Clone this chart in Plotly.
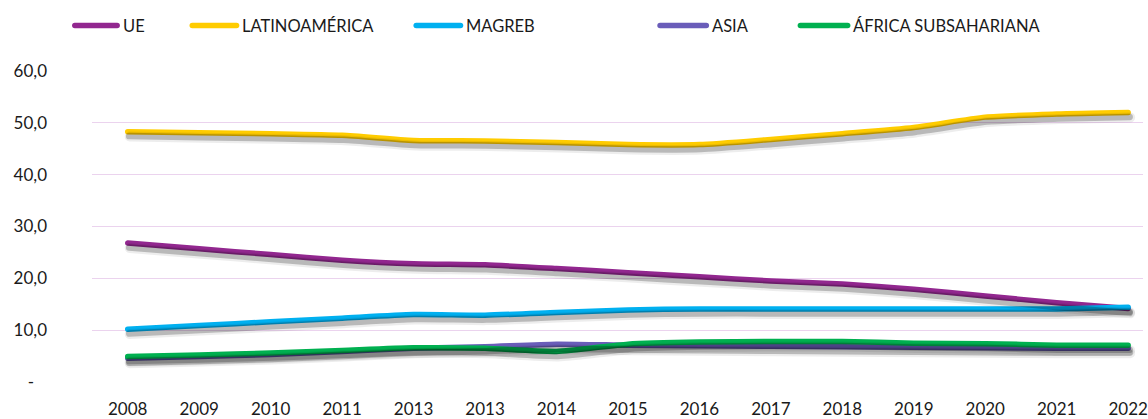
import plotly.graph_objects as go

# ---- data ----
years = ["2008", "2009", "2010", "2011", "2013", "2013", "2014", "2015",
         "2016", "2017", "2018", "2019", "2020", "2021", "2022"]
ue = [26.8, 25.7, 24.6, 23.5, 22.8, 22.6, 21.9, 21.1, 20.3, 19.5, 18.9, 17.9, 16.6, 15.3, 14.2]
latam = [48.3, 48.1, 47.9, 47.6, 46.6, 46.5, 46.2, 45.8, 45.8, 46.8, 47.9, 49.1, 51.1, 51.7, 52.0]
magreb = [10.2, 10.9, 11.6, 12.3, 13.0, 12.9, 13.4, 13.9, 14.1, 14.1, 14.1, 14.1, 14.1, 14.1, 14.4]
asia = [4.6, 4.9, 5.3, 5.9, 6.5, 6.8, 7.3, 7.1, 7.0, 6.9, 6.8, 6.7, 6.6, 6.5, 6.5]
africa = [4.9, 5.2, 5.6, 6.1, 6.6, 6.5, 5.9, 7.3, 7.7, 7.8, 7.8, 7.5, 7.4, 7.1, 7.1]

series_names = ["UE", "LATINOAMÉRICA", "MAGREB", "ASIA", "ÁFRICA SUBSAHARIANA"]
series_values = [ue, latam, magreb, asia, africa]
series_colors = ["#92278F", "#FFCC00", "#00B0F0", "#6A5DB9", "#00B050"]

y_ticks = [0, 10, 20, 30, 40, 50, 60]
y_ticktext = ["-\u00a0\u00a0\u00a0", "10,0", "20,0", "30,0", "40,0", "50,0", "60,0"]

# ---- layout geometry (pixels) ----
W, H = 1148, 419
ML, MR, MT, MB = 92, 0, 70.7, 35.7
plot_w = W - ML - MR
plot_h = H - MT - MB
px_per_cat = 71.8
x_lo = -0.5
x_hi = x_lo + plot_w / px_per_cat
y_lo, y_hi = 0, 60
px_per_unit = plot_h / (y_hi - y_lo)

xs = list(range(len(years)))
font_family = "Lato, 'Open Sans', sans-serif"

# shadow layers: (dx px, dy px, width, alpha)
shadow_layers = [(2.0, 5.0, 10, 0.07), (1.5, 4.5, 6.5, 0.22)]

fig = go.Figure()
layout_axes = {}
for i, (dx, dy, _, _) in enumerate(shadow_layers):
    k = i + 2
    layout_axes[f"xaxis{k}"] = dict(overlaying="x", range=[x_lo - dx / px_per_cat, x_hi - dx / px_per_cat],
                                    visible=False, showgrid=False, zeroline=False)
    layout_axes[f"yaxis{k}"] = dict(overlaying="y", range=[y_lo + dy / px_per_unit, y_hi + dy / px_per_unit],
                                    visible=False, showgrid=False, zeroline=False)

for name, vals, col in zip(series_names, series_values, series_colors):
    for i, (dx, dy, w, a) in enumerate(shadow_layers):
        k = i + 2
        fig.add_trace(go.Scatter(x=xs, y=vals, mode="lines", xaxis=f"x{k}", yaxis=f"y{k}",
                                 line=dict(color=f"rgba(0,0,0,{a})", width=w, shape="spline", smoothing=0.6),
                                 hoverinfo="skip", showlegend=False))
    fig.add_trace(go.Scatter(x=xs, y=vals, mode="lines", name=name,
                             line=dict(color=col, width=5.5, shape="spline", smoothing=0.6),
                             showlegend=False))

# ---- custom legend (Excel style) ----
leg_y_px = 25
cap = 2.75
leg_items_px = [(72, 120), (190, 240), (415, 465), (660, 712), (801, 854)]
shapes = []
annotations = []
for (x0, x1), name, col in zip(leg_items_px, series_names, series_colors):
    py = (H - MB - leg_y_px) / plot_h
    shapes.append(dict(type="line", xref="paper", yref="paper",
                       x0=(x0 + cap - ML) / plot_w, x1=(x1 - cap - ML) / plot_w, y0=py, y1=py,
                       line=dict(color=col, width=5.5)))
    annotations.append(dict(xref="paper", yref="paper", x=(x1 + 1 - ML) / plot_w, y=py,
                            xanchor="left", yanchor="middle", text=name, showarrow=False,
                            font=dict(family=font_family, size=16.5, color="#1a1a1a")))

fig.update_layout(
    width=W, height=H,
    margin=dict(l=ML, r=MR, t=MT, b=MB, pad=0),
    paper_bgcolor="white", plot_bgcolor="white",
    showlegend=False,
    shapes=shapes,
    annotations=annotations,
    font=dict(family=font_family, size=17, color="#1a1a1a"),
    xaxis=dict(range=[x_lo, x_hi], tickmode="array", tickvals=xs, ticktext=years,
               showgrid=False, zeroline=False, showline=False, ticks="",
               ticklabelstandoff=15, ticklabeloverflow="allow",
               tickfont=dict(size=17, color="#1a1a1a")),
    yaxis=dict(range=[y_lo, y_hi], tickmode="array", tickvals=y_ticks, ticktext=y_ticktext,
               showgrid=True, gridcolor="#EBD3EE", gridwidth=1.3, zeroline=False,
               showline=False, ticks="", ticklabelstandoff=44,
               tickfont=dict(size=17, color="#1a1a1a")),
    **layout_axes,
)

post_js = (
    "document.body.style.margin='0';document.body.style.overflow='hidden';"
    "var gd=document.getElementsByClassName('plotly-graph-div')[0];"
    "function caps(){gd.querySelectorAll('.scatterlayer path.js-line, .shapelayer path')"
    ".forEach(function(p){p.style.strokeLinecap='round';p.style.strokeLinejoin='round';});}"
    "caps();gd.on('plotly_afterplot',caps);"
)
fig.write_html("out.html", config={"displayModeBar": False}, post_script=post_js)
